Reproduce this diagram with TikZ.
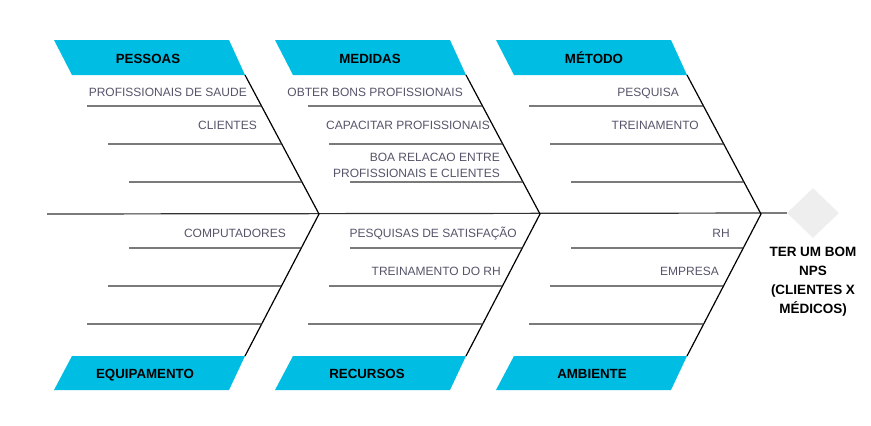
\documentclass[tikz,border=0pt]{standalone}
\usepackage{fontspec}
\setmainfont{Liberation Sans}
\usetikzlibrary{shapes.geometric,calc}
\definecolor{banner}{HTML}{00BDE3}
\definecolor{labelgray}{HTML}{55556A}
\definecolor{ribgray}{HTML}{333333}
\definecolor{diagray}{HTML}{EEEEEE}
\tikzset{
  spine/.style={line width=1.2pt, draw=black},
  rib/.style={line width=1.2pt, draw=ribgray},
  bannerfill/.style={fill=banner, draw=none},
  bannertext/.style={font=\fontsize{13.3}{15}\selectfont\bfseries, text=black, inner sep=0pt, anchor=base},
  cause/.style={font=\fontsize{12}{16}\selectfont, text=labelgray, inner sep=0pt, anchor=base east, align=right},
  effect/.style={font=\fontsize{13.5}{19}\selectfont\bfseries, text=black, inner sep=0pt, anchor=north, align=center},
  headshape/.style={diamond, fill=diagray, draw=none, minimum width=52pt, minimum height=50pt, inner sep=0pt}
}
\begin{document}
\begin{tikzpicture}[x=1pt,y=-1pt]
\useasboundingbox (0,0) rectangle (871,426);
% head
\node[headshape] (dia) at (813,213) {};
\coordinate (tail) at (47,214);
\draw[rib] (tail) -- (dia.west);
% groups
\foreach \i in {0,1,2}{
  \begin{scope}[xshift=\i*221pt]
    \coordinate (TB\i) at (245,75);
    \coordinate (J\i) at (319,214);
    \coordinate (BB\i) at (245,356);
    \fill[bannerfill] (54,40) -- (229,40) -- (TB\i) -- (72,75) -- cycle;
    \fill[bannerfill] (BB\i) -- (72,356) -- (54,390) -- (229,390) -- cycle;
    \draw[spine] (TB\i) -- (J\i) -- (BB\i);
    \draw[rib] (87,106) -- ($(TB\i)!0.2230!(J\i)$);
    \draw[rib] (108,144) -- ($(TB\i)!0.4964!(J\i)$);
    \draw[rib] (129,182) -- ($(TB\i)!0.7698!(J\i)$);
    \draw[rib] (129,248) -- ($(J\i)!0.2394!(BB\i)$);
    \draw[rib] (108,286) -- ($(J\i)!0.5070!(BB\i)$);
    \draw[rib] (87,324) -- ($(J\i)!0.7746!(BB\i)$);
  \end{scope}
}
% banner titles
\node[bannertext] (pessoas) at (148,63.7) {PESSOAS};
\node[bannertext] (medidas) at (370,63.7) {MEDIDAS};
\node[bannertext] (metodo) at (594,63.7) {MÉTODO};
\node[bannertext] (equip) at (145,378.7) {EQUIPAMENTO};
\node[bannertext] (recursos) at (367,378.7) {RECURSOS};
\node[bannertext] (ambiente) at (592,378.7) {AMBIENTE};
% causes
\node[cause] (c1) at (247,96.3) {PROFISSIONAIS DE SAUDE};
\node[cause] (c2) at (257,129.3) {CLIENTES};
\node[cause] (c3) at (463,96.3) {OBTER BONS PROFISSIONAIS};
\node[cause] (c4) at (490,129.3) {CAPACITAR PROFISSIONAIS};
\node[cause, anchor=north east] (c5) at (500,152.7) {BOA RELACAO ENTRE\\PROFISSIONAIS E CLIENTES};
\node[cause] (c6) at (679,96.3) {PESQUISA};
\node[cause] (c7) at (699,129.3) {TREINAMENTO};
\node[cause] (c8) at (286,237.3) {COMPUTADORES};
\node[cause] (c9) at (517,237.3) {PESQUISAS DE SATISFAÇÃO};
\node[cause] (c10) at (501,275.3) {TREINAMENTO DO RH};
\node[cause] (c11) at (730,237.3) {RH};
\node[cause] (c12) at (719,275.3) {EMPRESA};
% effect
\node[effect] (title) at (813,247.3) {TER UM BOM\\NPS\\(CLIENTES X\\MÉDICOS)};
\end{tikzpicture}
\end{document}
